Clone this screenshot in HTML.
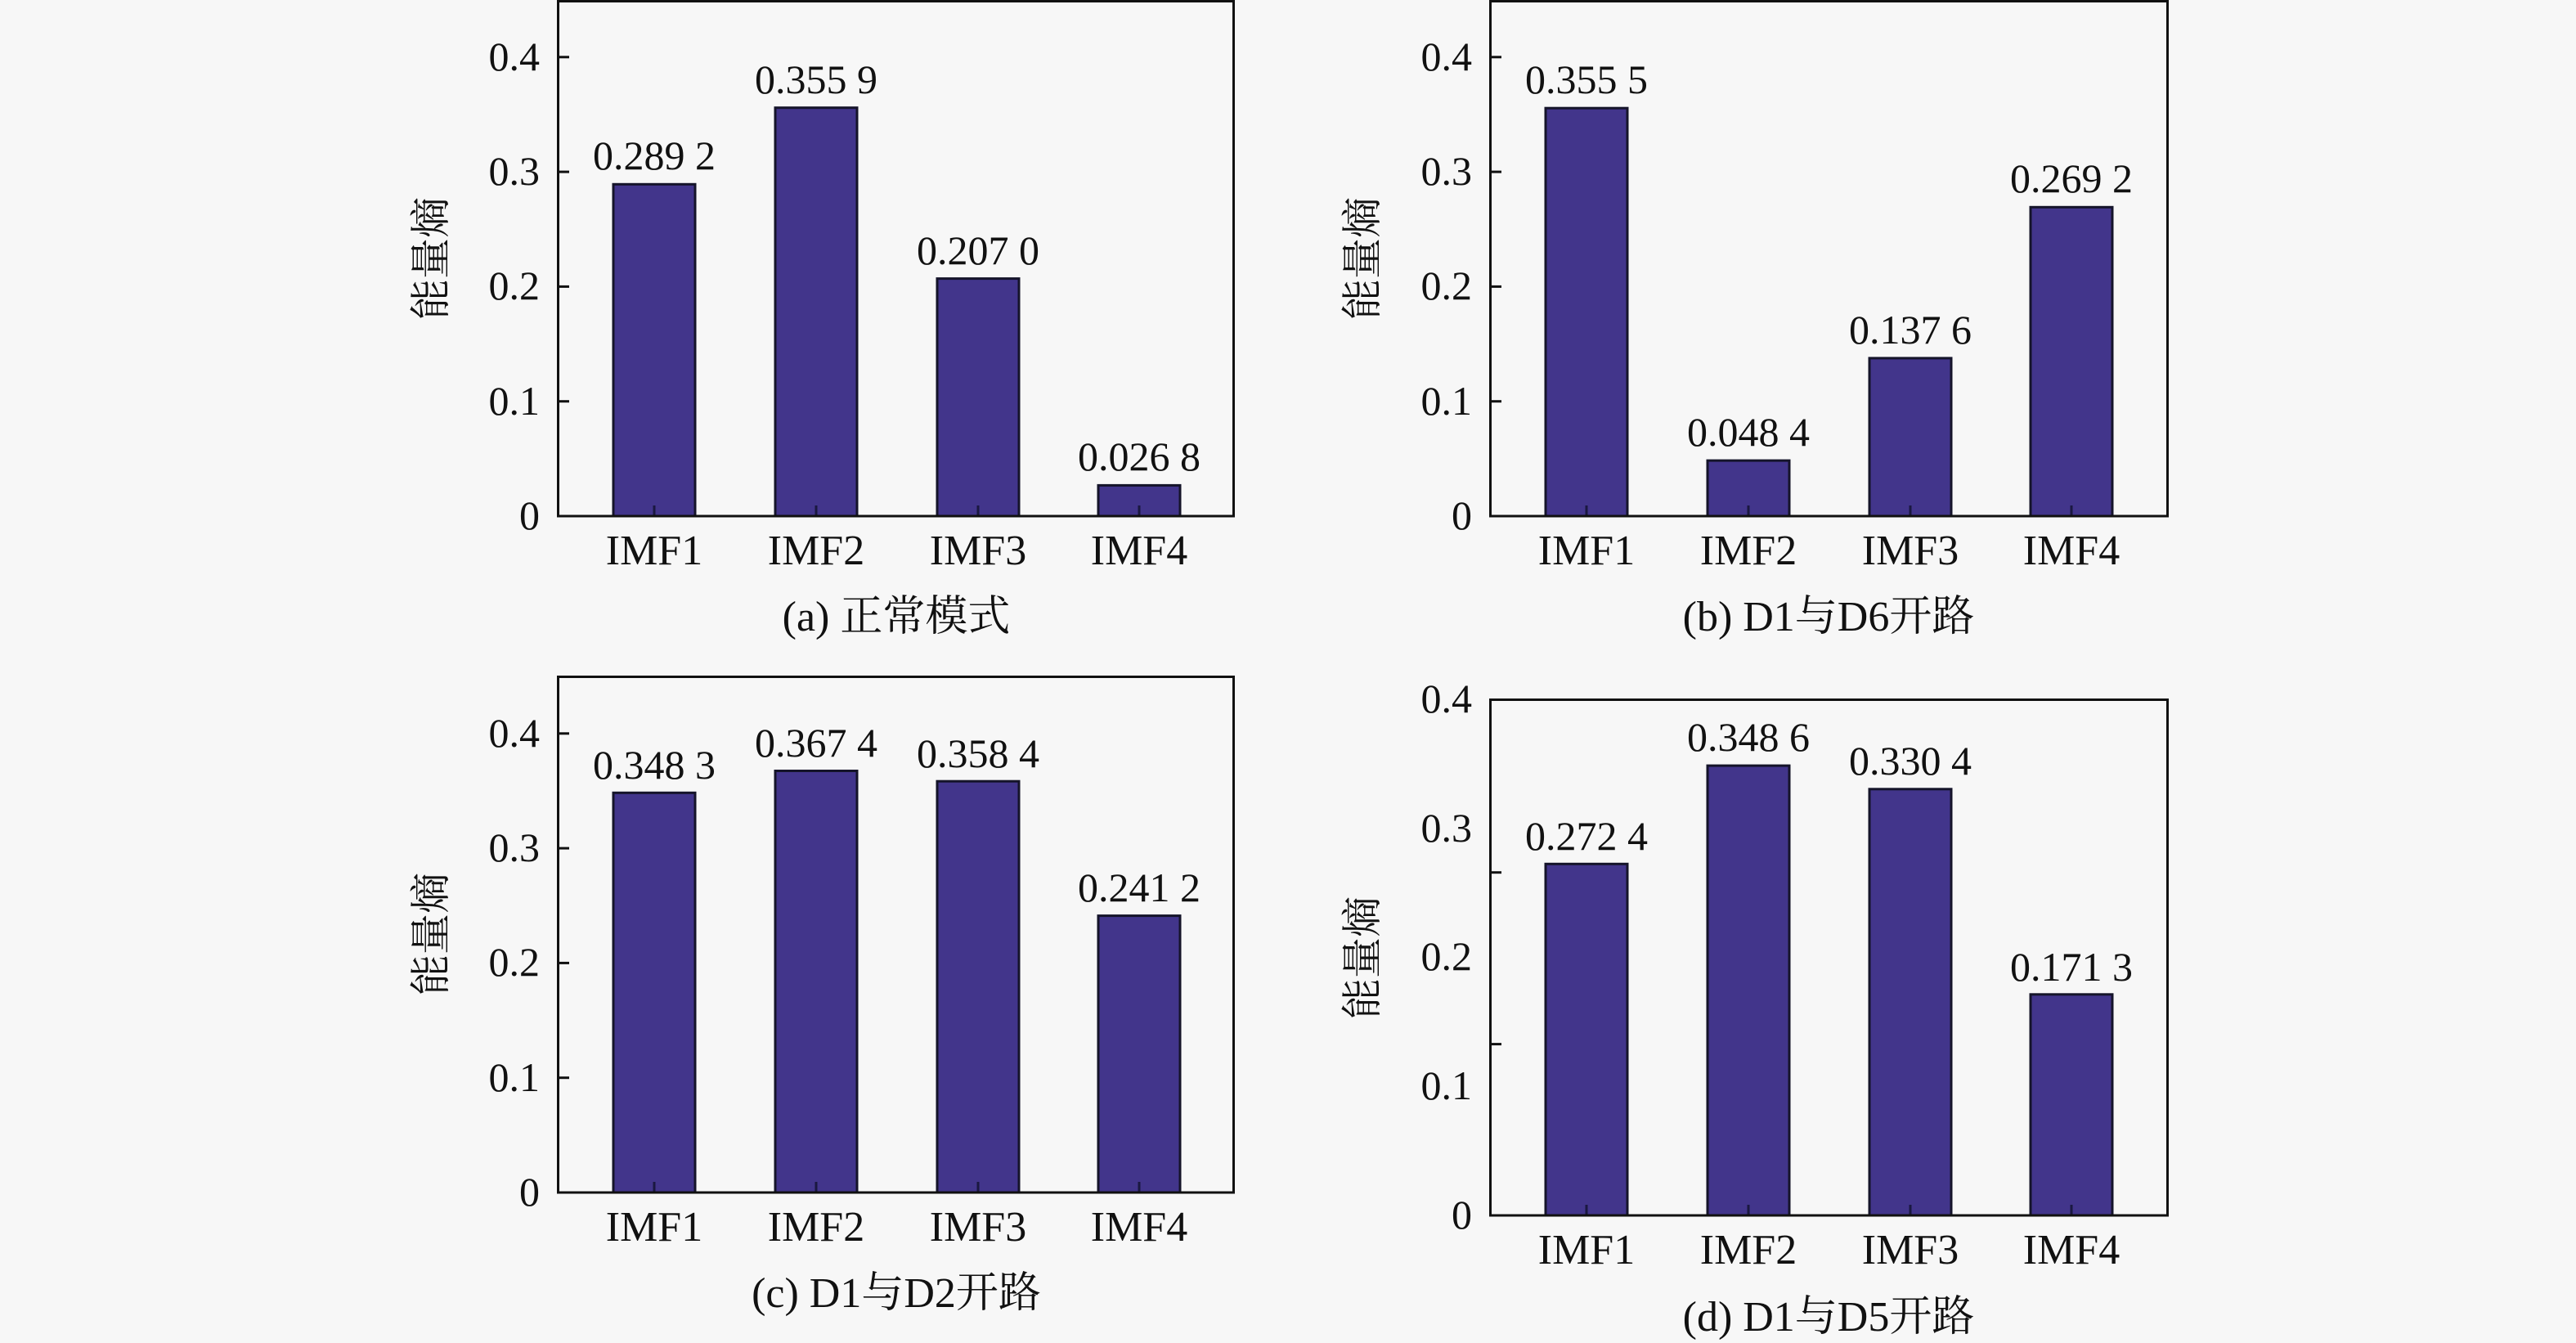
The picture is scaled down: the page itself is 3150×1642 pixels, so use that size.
<!DOCTYPE html>
<html>
<head>
<meta charset="utf-8">
<style>
  html, body { margin: 0; padding: 0; background: #f7f7f7; }
  svg { display: block; }
  .num { font-family: "Liberation Serif", "Noto Serif CJK SC", serif; font-size: 50px; fill: #111; }
  .cat { font-family: "Liberation Serif", "Noto Serif CJK SC", serif; font-size: 52px; fill: #111; }
  .cap { font-family: "Liberation Serif", "Noto Serif CJK SC", serif; font-size: 52px; fill: #111; }
  .ylab { font-family: "Noto Serif CJK SC", "Noto Sans CJK SC", serif; font-size: 50px; fill: #111; }
</style>
</head>
<body>
<svg width="3150" height="1642" viewBox="0 0 3150 1642" xmlns="http://www.w3.org/2000/svg">
  <rect x="0" y="0" width="3150" height="1642" fill="#f7f7f7"/>

  <!-- ================= Panel (a) ================= -->
  <g>
    <rect x="750" y="225.3" width="100" height="405.7" fill="#42358b" stroke="#15142a" stroke-width="3"/>
    <rect x="948" y="131.7" width="100" height="499.3" fill="#42358b" stroke="#15142a" stroke-width="3"/>
    <rect x="1146" y="340.6" width="100" height="290.4" fill="#42358b" stroke="#15142a" stroke-width="3"/>
    <rect x="1343" y="593.4" width="100" height="37.6" fill="#42358b" stroke="#15142a" stroke-width="3"/>
    <g stroke="#1a1840" stroke-width="3">
      <line x1="800" y1="631" x2="800" y2="618"/><line x1="998" y1="631" x2="998" y2="618"/>
      <line x1="1196" y1="631" x2="1196" y2="618"/><line x1="1393" y1="631" x2="1393" y2="618"/>
    </g>
    <rect x="682.5" y="1.5" width="826" height="629.5" fill="none" stroke="#111" stroke-width="3"/>
    <g stroke="#111" stroke-width="3">
      <line x1="682" y1="490.7" x2="696" y2="490.7"/><line x1="682" y1="350.4" x2="696" y2="350.4"/>
      <line x1="682" y1="210.1" x2="696" y2="210.1"/><line x1="682" y1="69.8" x2="696" y2="69.8"/>
    </g>
    <g class="num" text-anchor="end">
      <text x="660" y="647">0</text><text x="660" y="507">0.1</text><text x="660" y="366">0.2</text>
      <text x="660" y="226">0.3</text><text x="660" y="86">0.4</text>
    </g>
    <g class="num" text-anchor="middle">
      <text x="800" y="207">0.289 2</text><text x="998" y="114">0.355 9</text>
      <text x="1196" y="323">0.207 0</text><text x="1393" y="575">0.026 8</text>
    </g>
    <g class="cat" text-anchor="middle">
      <text x="800" y="690">IMF1</text><text x="998" y="690">IMF2</text>
      <text x="1196" y="690">IMF3</text><text x="1393" y="690">IMF4</text>
    </g>
    <text class="ylab" text-anchor="middle" transform="translate(526,316) rotate(-90)" x="0" y="18">能量熵</text>
    <text class="cap" x="1096" y="771" text-anchor="middle">(a) 正常模式</text>
  </g>

  <!-- ================= Panel (b) ================= -->
  <g>
    <rect x="1890" y="132.2" width="100" height="498.8" fill="#42358b" stroke="#15142a" stroke-width="3"/>
    <rect x="2088" y="563.1" width="100" height="67.9" fill="#42358b" stroke="#15142a" stroke-width="3"/>
    <rect x="2286" y="437.9" width="100" height="193.1" fill="#42358b" stroke="#15142a" stroke-width="3"/>
    <rect x="2483" y="253.3" width="100" height="377.7" fill="#42358b" stroke="#15142a" stroke-width="3"/>
    <g stroke="#1a1840" stroke-width="3">
      <line x1="1940" y1="631" x2="1940" y2="618"/><line x1="2138" y1="631" x2="2138" y2="618"/>
      <line x1="2336" y1="631" x2="2336" y2="618"/><line x1="2533" y1="631" x2="2533" y2="618"/>
    </g>
    <rect x="1822.5" y="1.5" width="828" height="629.5" fill="none" stroke="#111" stroke-width="3"/>
    <g stroke="#111" stroke-width="3">
      <line x1="1822" y1="490.7" x2="1836" y2="490.7"/><line x1="1822" y1="350.4" x2="1836" y2="350.4"/>
      <line x1="1822" y1="210.1" x2="1836" y2="210.1"/><line x1="1822" y1="69.8" x2="1836" y2="69.8"/>
    </g>
    <g class="num" text-anchor="end">
      <text x="1800" y="647">0</text><text x="1800" y="507">0.1</text><text x="1800" y="366">0.2</text>
      <text x="1800" y="226">0.3</text><text x="1800" y="86">0.4</text>
    </g>
    <g class="num" text-anchor="middle">
      <text x="1940" y="114">0.355 5</text><text x="2138" y="545">0.048 4</text>
      <text x="2336" y="420">0.137 6</text><text x="2533" y="235">0.269 2</text>
    </g>
    <g class="cat" text-anchor="middle">
      <text x="1940" y="690">IMF1</text><text x="2138" y="690">IMF2</text>
      <text x="2336" y="690">IMF3</text><text x="2533" y="690">IMF4</text>
    </g>
    <text class="ylab" text-anchor="middle" transform="translate(1665,316) rotate(-90)" x="0" y="18">能量熵</text>
    <text class="cap" x="2236" y="771" text-anchor="middle">(b) D1与D6开路</text>
  </g>

  <!-- ================= Panel (c) ================= -->
  <g>
    <rect x="750" y="969.3" width="100" height="488.7" fill="#42358b" stroke="#15142a" stroke-width="3"/>
    <rect x="948" y="942.5" width="100" height="515.5" fill="#42358b" stroke="#15142a" stroke-width="3"/>
    <rect x="1146" y="955.2" width="100" height="502.8" fill="#42358b" stroke="#15142a" stroke-width="3"/>
    <rect x="1343" y="1119.6" width="100" height="338.4" fill="#42358b" stroke="#15142a" stroke-width="3"/>
    <g stroke="#1a1840" stroke-width="3">
      <line x1="800" y1="1458" x2="800" y2="1445"/><line x1="998" y1="1458" x2="998" y2="1445"/>
      <line x1="1196" y1="1458" x2="1196" y2="1445"/><line x1="1393" y1="1458" x2="1393" y2="1445"/>
    </g>
    <rect x="682.5" y="827.5" width="826" height="630.5" fill="none" stroke="#111" stroke-width="3"/>
    <g stroke="#111" stroke-width="3">
      <line x1="682" y1="1317.7" x2="696" y2="1317.7"/><line x1="682" y1="1177.4" x2="696" y2="1177.4"/>
      <line x1="682" y1="1037.1" x2="696" y2="1037.1"/><line x1="682" y1="896.8" x2="696" y2="896.8"/>
    </g>
    <g class="num" text-anchor="end">
      <text x="660" y="1474">0</text><text x="660" y="1334">0.1</text><text x="660" y="1193">0.2</text>
      <text x="660" y="1053">0.3</text><text x="660" y="913">0.4</text>
    </g>
    <g class="num" text-anchor="middle">
      <text x="800" y="952">0.348 3</text><text x="998" y="925">0.367 4</text>
      <text x="1196" y="938">0.358 4</text><text x="1393" y="1102">0.241 2</text>
    </g>
    <g class="cat" text-anchor="middle">
      <text x="800" y="1517">IMF1</text><text x="998" y="1517">IMF2</text>
      <text x="1196" y="1517">IMF3</text><text x="1393" y="1517">IMF4</text>
    </g>
    <text class="ylab" text-anchor="middle" transform="translate(526,1142) rotate(-90)" x="0" y="18">能量熵</text>
    <text class="cap" x="1096" y="1598" text-anchor="middle">(c) D1与D2开路</text>
  </g>

  <!-- ================= Panel (d) ================= -->
  <g>
    <rect x="1890" y="1056.3" width="100" height="429.7" fill="#42358b" stroke="#15142a" stroke-width="3"/>
    <rect x="2088" y="936.1" width="100" height="549.9" fill="#42358b" stroke="#15142a" stroke-width="3"/>
    <rect x="2286" y="964.8" width="100" height="521.2" fill="#42358b" stroke="#15142a" stroke-width="3"/>
    <rect x="2483" y="1215.8" width="100" height="270.2" fill="#42358b" stroke="#15142a" stroke-width="3"/>
    <g stroke="#1a1840" stroke-width="3">
      <line x1="1940" y1="1486" x2="1940" y2="1473"/><line x1="2138" y1="1486" x2="2138" y2="1473"/>
      <line x1="2336" y1="1486" x2="2336" y2="1473"/><line x1="2533" y1="1486" x2="2533" y2="1473"/>
    </g>
    <rect x="1822.5" y="855.5" width="828" height="630.5" fill="none" stroke="#111" stroke-width="3"/>
    <g stroke="#111" stroke-width="3">
      <line x1="1822" y1="1066.7" x2="1836" y2="1066.7"/><line x1="1822" y1="1276.6" x2="1836" y2="1276.6"/>
    </g>
    <g class="num" text-anchor="end">
      <text x="1800" y="1502">0</text><text x="1800" y="1344">0.1</text><text x="1800" y="1186">0.2</text>
      <text x="1800" y="1029">0.3</text><text x="1800" y="871">0.4</text>
    </g>
    <g class="num" text-anchor="middle">
      <text x="1940" y="1039">0.272 4</text><text x="2138" y="918">0.348 6</text>
      <text x="2336" y="947">0.330 4</text><text x="2533" y="1199">0.171 3</text>
    </g>
    <g class="cat" text-anchor="middle">
      <text x="1940" y="1545">IMF1</text><text x="2138" y="1545">IMF2</text>
      <text x="2336" y="1545">IMF3</text><text x="2533" y="1545">IMF4</text>
    </g>
    <text class="ylab" text-anchor="middle" transform="translate(1665,1171) rotate(-90)" x="0" y="18">能量熵</text>
    <text class="cap" x="2236" y="1627" text-anchor="middle">(d) D1与D5开路</text>
  </g>
</svg>
</body>
</html>
